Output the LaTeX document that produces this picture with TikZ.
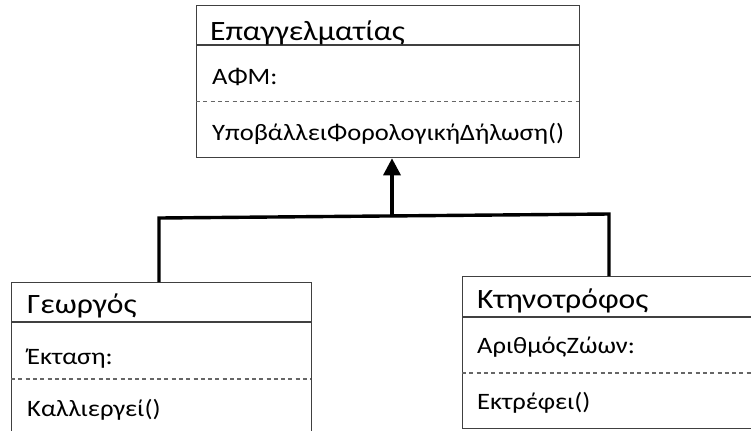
\documentclass[tikz,border=0pt]{standalone}
\usepackage{fontspec}
\setmainfont[FakeStretch=1.13]{Carlito}
\usetikzlibrary{arrows.meta}
\begin{document}
\begin{tikzpicture}[x=1bp,y=-1bp,
  classbox/.style={draw=black!75, line width=1.3bp, minimum width=#1, inner sep=0pt, anchor=north west},
  sepline/.style={draw=black!75, line width=1.1bp},
  dashsep/.style={draw=black!60, line width=1.1bp, dash pattern=on 4bp off 3.3bp},
  ttl/.style={anchor=base west, inner sep=0pt, font=\fontsize{28bp}{32bp}\selectfont},
  attr/.style={anchor=base west, inner sep=0pt, font=\fontsize{23.5bp}{28bp}\selectfont},
  conn/.style={line width=3.4bp, line join=miter}
]
\useasboundingbox (0,0) rectangle (751,430);
\clip (0,0) rectangle (751,430);

% top class
\node[classbox=383bp, minimum height=152bp] (sup) at (196,5) {};
\draw[sepline] (196,45) -- (579,45);
\draw[dashsep] (196,101.5) -- (579,101.5);
\node[ttl] (supT) at (210,40) {Επαγγελματίας};
\node[attr] (supA) at (212,84) {ΑΦΜ:};
\node[attr] (supM) at (212,140) {ΥποβάλλειΦορολογικήΔήλωση()};

% left class
\node[classbox=300bp, minimum height=170bp] (geo) at (11,282) {};
\draw[sepline] (11,322) -- (311,322);
\draw[dashsep] (11,379) -- (311,379);
\node[ttl] (geoT) at (27,313) {Γεωργός};
\node[attr] (geoA) at (27,364) {Έκταση:};
\node[attr] (geoM) at (27,416) {Καλλιεργεί()};

% right class
\node[classbox=320bp, minimum height=152bp] (kti) at (462,276) {};
\draw[sepline] (462,317) -- (760,317);
\draw[dashsep] (462,373) -- (760,373);
\node[ttl] (ktiT) at (477,308) {Κτηνοτρόφος};
\node[attr] (ktiA) at (477,353) {ΑριθμόςΖώων:};
\node[attr] (ktiM) at (477,409) {Εκτρέφει()};

% connectors
\coordinate (jl) at (159,218);
\coordinate (jr) at (609,214);
\coordinate (jm) at (392,216);
\draw[conn] (geo.north west -| jl) -- (jl) -- (jr) -- (kti.north west -| jr);
\draw[conn, -{Triangle[length=17bp, width=17bp]}] (jm) -- (jm |- sup.south);
\end{tikzpicture}
\end{document}
